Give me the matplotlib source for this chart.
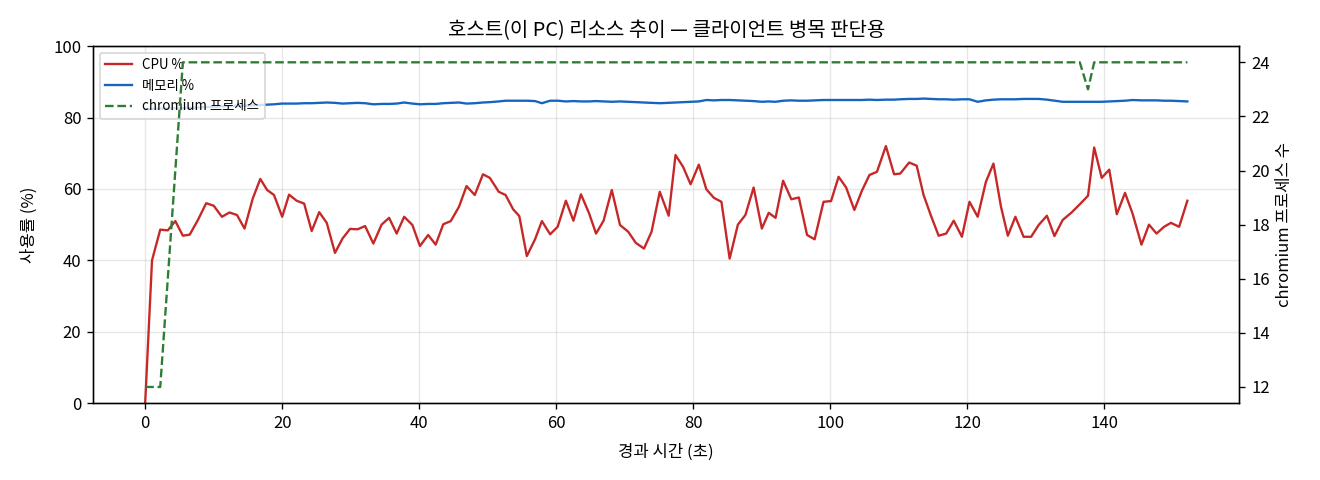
import matplotlib
matplotlib.use("Agg")
import matplotlib.pyplot as plt

plt.rcParams['font.family'] = ['Noto Sans CJK KR', 'DejaVu Sans']

# 경과 시간 (초)
elapsed = [
    0.0, 1.0, 2.2, 3.3, 4.4, 5.5, 6.5, 7.7, 8.9, 10.0,
    11.2, 12.3, 13.4, 14.5, 15.7, 16.8, 17.8, 18.8, 20.0, 21.0,
    22.1, 23.2, 24.3, 25.4, 26.5, 27.7, 28.8, 29.9, 31.0, 32.1,
    33.3, 34.5, 35.6, 36.7, 37.8, 39.0, 40.1, 41.3, 42.4, 43.5,
    44.6, 45.8, 46.9, 48.1, 49.3, 50.3, 51.6, 52.6, 53.7, 54.6,
    55.7, 56.9, 57.9, 59.1, 60.2, 61.4, 62.5, 63.6, 64.8, 65.8,
    66.9, 68.1, 69.3, 70.5, 71.6, 72.8, 73.9, 75.1, 76.4, 77.4,
    78.5, 79.6, 80.8, 81.9, 83.0, 84.1, 85.3, 86.5, 87.6, 88.8,
    90.0, 91.0, 92.0, 93.1, 94.3, 95.4, 96.6, 97.7, 99.0, 100.1,
    101.2, 102.3, 103.5, 104.6, 105.7, 106.8, 108.1, 109.3, 110.2, 111.5,
    112.6, 113.6, 114.7, 115.8, 116.9, 118.0, 119.2, 120.3, 121.5, 122.7,
    123.8, 124.9, 125.9, 127.0, 128.2, 129.3, 130.4, 131.6, 132.7, 133.9,
    135.2, 136.4, 137.6, 138.5, 139.6, 140.7, 141.8, 143.0, 144.1, 145.4,
    146.5, 147.6, 148.7, 149.7, 150.9, 152.1,
]

cpu = [
    0.0, 40.0, 48.6, 48.4, 51.0, 46.9, 47.2, 51.3, 56.0, 55.3,
    52.2, 53.4, 52.7, 48.9, 57.3, 62.8, 59.7, 58.3, 52.2, 58.4,
    56.7, 55.9, 48.2, 53.5, 50.5, 42.1, 46.1, 48.8, 48.7, 49.6,
    44.7, 50.0, 51.9, 47.5, 52.2, 49.9, 44.0, 47.1, 44.4, 50.1,
    51.0, 55.0, 60.8, 58.3, 64.1, 63.1, 59.2, 58.3, 54.3, 52.4,
    41.2, 45.9, 51.0, 47.3, 49.4, 56.7, 51.1, 58.5, 53.1, 47.5,
    51.1, 59.7, 49.9, 48.0, 44.9, 43.3, 48.0, 59.2, 52.5, 69.5,
    66.2, 61.3, 66.8, 59.9, 57.5, 56.4, 40.5, 50.0, 52.7, 60.4,
    48.9, 53.3, 51.9, 62.3, 57.1, 57.6, 47.1, 45.9, 56.4, 56.6,
    63.4, 60.4, 54.1, 59.5, 63.9, 64.8, 72.0, 64.1, 64.3, 67.4,
    66.5, 58.3, 52.4, 46.9, 47.5, 51.1, 46.6, 56.4, 52.2, 62.0,
    67.1, 55.0, 46.9, 52.2, 46.6, 46.6, 49.9, 52.5, 46.8, 51.3,
    53.4, 55.7, 58.1, 71.6, 63.1, 65.4, 52.9, 58.9, 53.1, 44.4,
    50.0, 47.5, 49.4, 50.5, 49.4, 56.7,
]

memory = [
    82.3, 82.4, 82.5, 82.5, 82.6, 82.6, 82.7, 82.8, 82.9, 83.0,
    83.1, 83.2, 83.3, 83.3, 83.4, 83.5, 83.6, 83.7, 83.9, 83.9,
    83.9, 84.0, 84.0, 84.1, 84.2, 84.1, 83.9, 84.0, 84.1, 84.0,
    83.7, 83.8, 83.8, 83.9, 84.2, 83.9, 83.7, 83.8, 83.8, 84.0,
    84.1, 84.2, 83.9, 84.0, 84.2, 84.3, 84.5, 84.7, 84.7, 84.7,
    84.7, 84.6, 84.0, 84.7, 84.7, 84.5, 84.6, 84.5, 84.5, 84.6,
    84.5, 84.4, 84.5, 84.4, 84.3, 84.2, 84.1, 84.0, 84.1, 84.2,
    84.3, 84.4, 84.5, 84.9, 84.8, 84.9, 84.9, 84.8, 84.7, 84.6,
    84.4, 84.5, 84.4, 84.7, 84.8, 84.7, 84.7, 84.8, 84.9, 84.9,
    84.9, 84.9, 84.9, 84.9, 85.0, 84.9, 85.0, 85.0, 85.1, 85.2,
    85.2, 85.3, 85.2, 85.1, 85.1, 85.0, 85.1, 85.1, 84.4, 84.8,
    85.0, 85.1, 85.1, 85.1, 85.2, 85.2, 85.2, 85.0, 84.7, 84.4,
    84.4, 84.4, 84.4, 84.4, 84.4, 84.5, 84.6, 84.7, 84.9, 84.8,
    84.8, 84.8, 84.7, 84.7, 84.6, 84.5,
]

chromium = [
    12, 12, 12, 16, 20, 24, 24, 24, 24, 24,
    24, 24, 24, 24, 24, 24, 24, 24, 24, 24,
    24, 24, 24, 24, 24, 24, 24, 24, 24, 24,
    24, 24, 24, 24, 24, 24, 24, 24, 24, 24,
    24, 24, 24, 24, 24, 24, 24, 24, 24, 24,
    24, 24, 24, 24, 24, 24, 24, 24, 24, 24,
    24, 24, 24, 24, 24, 24, 24, 24, 24, 24,
    24, 24, 24, 24, 24, 24, 24, 24, 24, 24,
    24, 24, 24, 24, 24, 24, 24, 24, 24, 24,
    24, 24, 24, 24, 24, 24, 24, 24, 24, 24,
    24, 24, 24, 24, 24, 24, 24, 24, 24, 24,
    24, 24, 24, 24, 24, 24, 24, 24, 24, 24,
    24, 24, 23, 24, 24, 24, 24, 24, 24, 24,
    24, 24, 24, 24, 24, 24,
]

fig, ax1 = plt.subplots(figsize=(11, 4), dpi=120)
fig.subplots_adjust(left=0.0705, right=0.939, top=0.904, bottom=0.160)

l1, = ax1.plot(elapsed, cpu, color='#c62828', linewidth=1.4, label='CPU %')
l2, = ax1.plot(elapsed, memory, color='#1565c0', linewidth=1.4, label='메모리 %')
ax1.set_ylim(0, 100)
ax1.set_xlabel('경과 시간 (초)', labelpad=7)
ax1.set_ylabel('사용률 (%)', labelpad=9)
ax1.grid(True, alpha=0.3)

ax2 = ax1.twinx()
l3, = ax2.plot(elapsed, chromium, color='#2e7d32', linewidth=1.4,
               linestyle='--', label='chromium 프로세스')
ax2.set_ylabel('chromium 프로세스 수')

ax1.legend(handles=[l1, l2, l3], loc='upper left', fontsize=8)
ax1.set_title('호스트(이 PC) 리소스 추이 — 클라이언트 병목 판단용', fontsize=12)

plt.savefig('out.png', dpi=120)
